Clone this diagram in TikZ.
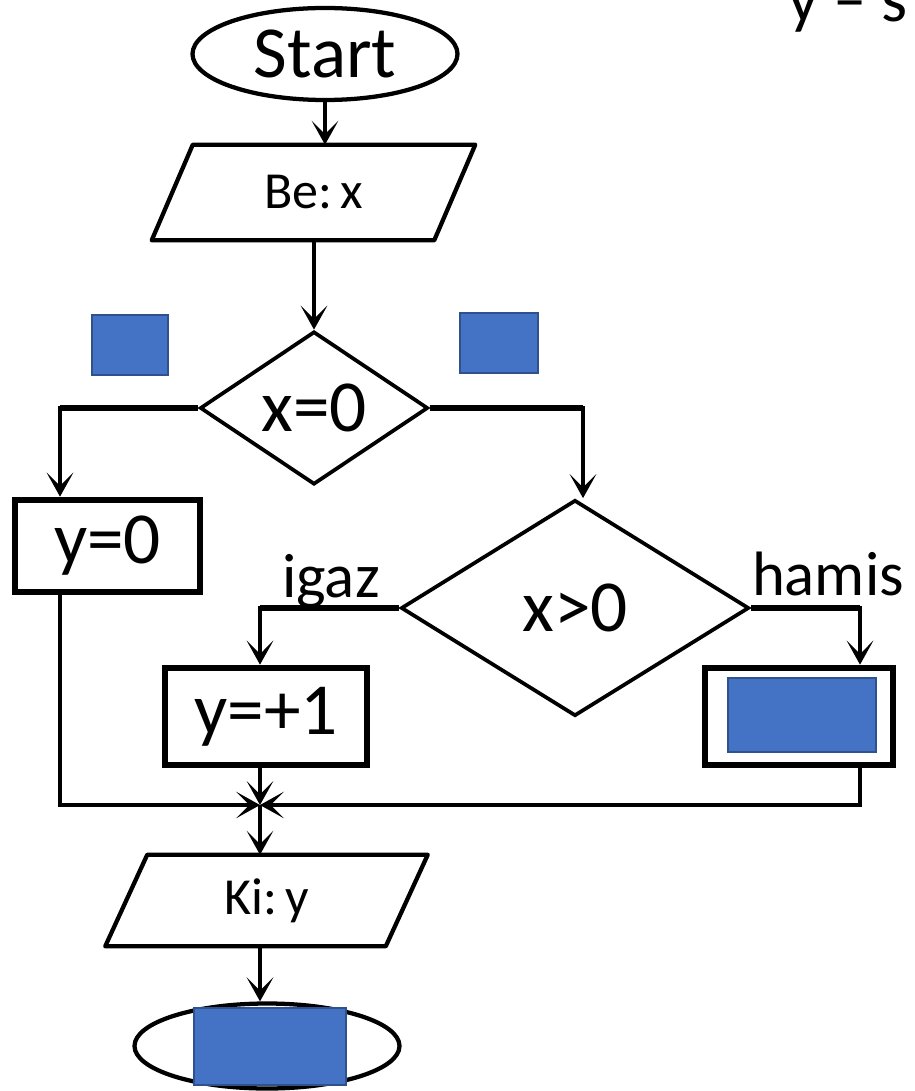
\documentclass[tikz,border=0pt]{standalone}
\usepackage{fontspec}
\setmainfont{Carlito}
\usetikzlibrary{shapes.geometric,arrows.meta,calc}
\definecolor{boxblue}{HTML}{4472C4}
\definecolor{boxedge}{HTML}{2F528F}
\newcommand\pxu{0.75pt}
\newcommand\bigtxt{\fontsize{55}{60}\selectfont}
\newcommand\medtxt{\fontsize{39}{44}\selectfont}
\newcommand\lbltxt{\fontsize{47}{52}\selectfont}
\begin{document}
\begin{tikzpicture}[x=0.75pt,y=-0.75pt,
  conn/.style={line width=2.7pt, black},
  arr/.style={conn, -{Stealth[length=18pt,width=20pt,inset=10pt]}},
  branch/.style={line width=4.2pt},
  procbox/.style={rectangle, draw, line width=5pt, inner sep=0pt, font=\bigtxt},
  term/.style={ellipse, draw, line width=3.2pt, inner sep=0pt, font=\bigtxt},
  decis/.style={diamond, draw, line width=2.8pt, inner sep=0pt, font=\bigtxt},
  iotext/.style={rectangle, inner sep=0pt, font=\medtxt},
  iofr/.style={line width=3.2pt, line join=round},
  hidebox/.style={fill=boxblue, draw=boxedge, line width=1.2pt},
  lbl/.style={font=\lbltxt, inner sep=0pt}]
\useasboundingbox (0,0) rectangle (914,1091);
\clip (0,0) rectangle (914,1091);

% top-right clipped text (cut off in the reference as well)
\node[font=\fontsize{50}{55}\selectfont, anchor=base west, inner sep=0pt] (ys) at (788,22) {y – s};

% start
\node[term, minimum width=265*\pxu, minimum height=92*\pxu] (start) at (325,54) {Start};

% Be: x
\node[iotext, minimum width=282*\pxu, minimum height=95*\pxu] (bex) at (313.5,192.5) {Be:\hspace{0.15em}x};
\draw[iofr] ($(bex.south west)+(-20.5,0)$) -- ($(bex.north west)+(20.5,0)$) -- ($(bex.north east)+(20.5,0)$) -- ($(bex.south east)+(-20.5,0)$) -- cycle;
\draw[arr] (start.south) -- (start.south |- bex.north);

% decision x=0
\node[decis, minimum width=228*\pxu, minimum height=153*\pxu, aspect=1.49] (d1) at (314,408) {x=0};
\draw[arr] (d1.north |- bex.south) -- (d1.north);

\draw[hidebox] (92,315) rectangle (168,375);
\draw[hidebox] (460,313) rectangle (538,373);

% y=0
\node[procbox, minimum width=185*\pxu, minimum height=92*\pxu] (y0) at (107.5,546) {y=0};
\coordinate (l1) at (60,408);
\draw[arr] (d1.west) -- (l1) -- (l1 |- y0.north);
\draw[branch] (d1.west) -- (l1);

% decision x>0
\node[decis, minimum width=348*\pxu, minimum height=216*\pxu, aspect=1.61] (d2) at (575,608) {x>0};
\coordinate (r1) at (583,408);
\draw[arr] (d1.east) -- (r1) -- (r1 |- d2.north);
\draw[branch] (d1.east) -- (r1);

\node[lbl, anchor=base] (igaz) at (331,597) {igaz};
\node[lbl, anchor=base] (hamis) at (828,595) {hamis};

% y=+1
\node[procbox, minimum width=202*\pxu, minimum height=97*\pxu] (yp1) at (266,716.5) {y=+1};
\coordinate (j1) at (260,608);
\draw[arr] (d2.west) -- (j1) -- (j1 |- yp1.north);
\draw[branch] (d2.west) -- (j1);

% hamis box
\node[procbox, minimum width=188*\pxu, minimum height=97*\pxu] (hb) at (799,716.5) {};
\draw[hidebox] (728,678) rectangle (876,752);
\coordinate (h1) at (860,608);
\draw[arr] (d2.east) -- (h1) -- (h1 |- hb.north);
\draw[branch] (d2.east) -- (h1);

% merge
\coordinate (m) at (260,805);
\coordinate (l2) at (60,805);
\coordinate (r2) at (860,805);
\draw[arr] (l1 |- y0.south) -- (l2) -- (m);
\draw[arr] (h1 |- hb.south) -- (r2) -- (m);
\draw[arr] (m |- yp1.south) -- (m);

% Ki: y
\node[iotext, minimum width=280*\pxu, minimum height=91*\pxu] (ki) at (266.5,900.5) {Ki:\hspace{0.15em}y};
\draw[iofr] ($(ki.south west)+(-21,0)$) -- ($(ki.north west)+(21,0)$) -- ($(ki.north east)+(21,0)$) -- ($(ki.south east)+(-21,0)$) -- cycle;
\draw[arr] (m) -- (m |- ki.north);

% end
\node[term, minimum width=265*\pxu, minimum height=85*\pxu] (endn) at (267,1046) {};
\draw[arr] (m |- ki.south) -- (m |- endn.north);
\draw[hidebox] (194,1008) rectangle (346,1085);
\end{tikzpicture}
\end{document}
